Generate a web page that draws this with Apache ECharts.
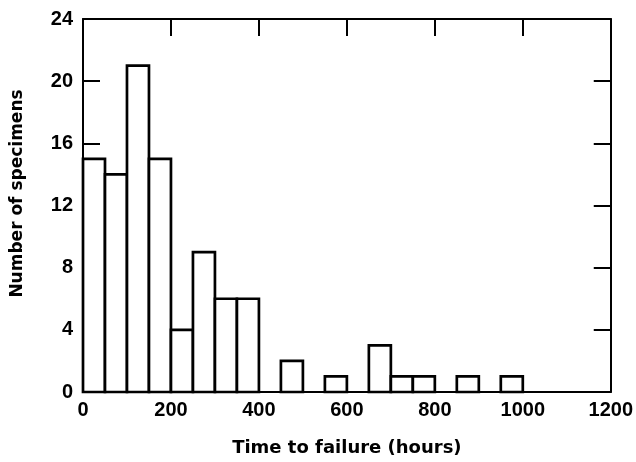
<!DOCTYPE html>
<html>
<head>
<meta charset="utf-8">
<script src="https://cdn.jsdelivr.net/npm/echarts@6/dist/echarts.min.js"></script>
<style>
  html, body { margin:0; padding:0; background:#fff; }
  #chart { width:636px; height:462px; }
</style>
</head>
<body>
<div id="chart"></div>
<script>
// ===== Data (bins of 50 hours)
const binStarts = [0,50,100,150,200,250,300,350,400,450,500,550,600,650,700,750,800,850,900,950];
const counts    = [15,14,21,15,4,9,6,6,0,2,0,1,0,3,1,1,0,1,0,1];
const BIN = 50;
const xTicks = [0,200,400,600,800,1000,1200];
const yTicks = [0,4,8,12,16,20,24];

const FONT = '"DejaVu Sans", Arial, sans-serif';
const NUMFONT = '"Liberation Sans", Arial, sans-serif';
const chart = echarts.init(document.getElementById('chart'));

const data = binStarts.map((s,i)=>[s, counts[i]]);

function renderBar(params, api){
  const x0 = api.value(0), cnt = api.value(1);
  if (!cnt) return null;
  const p0 = api.coord([x0, 0]), p1 = api.coord([x0 + BIN, cnt]);
  return {
    type:'rect',
    shape:{ x:p0[0], y:p1[1], width:p1[0]-p0[0], height:p0[1]-p1[1] },
    style:{ fill:'#fff', stroke:'#000', lineWidth:2.7 }
  };
}

const lbl = { color:'#000', fontFamily:NUMFONT, fontWeight:'bold', fontSize:20 };
const titleStyle = { color:'#000', fontFamily:FONT, fontWeight:'bold', fontSize:18 };
const line = { show:true, onZero:false, lineStyle:{ color:'#000', width:2 } };
const tickIn = { show:true, inside:true, length:17, lineStyle:{ color:'#000', width:2 } };

chart.setOption({
  animation:false,
  backgroundColor:'#fff',
  grid:{ left:83, top:19, right:24, bottom:69 },
  xAxis:[{
    type:'value', min:0, max:1200, interval:200, position:'bottom',
    name:'Time to failure (hours)', nameLocation:'middle', nameGap:47,
    nameTextStyle:titleStyle,
    axisLine:line,
    axisTick:{ show:false },
    axisLabel:{ ...lbl, margin:8, formatter:v=>xTicks.includes(v)?String(v):'' },
    splitLine:{ show:false }
  },{
    type:'value', min:0, max:1200, interval:200, position:'top',
    axisLine:line, axisTick:tickIn,
    axisLabel:{ show:false }, splitLine:{ show:false }
  }],
  yAxis:[{
    type:'value', min:0, max:24, interval:4, position:'left',
    name:'Number of specimens', nameLocation:'middle', nameGap:57,
    nameTextStyle:{ ...titleStyle, fontSize:17, padding:[0,0,0,24] },
    axisLine:line, axisTick:tickIn,
    axisLabel:{ ...lbl, margin:10, formatter:v=>yTicks.includes(v)?String(v):'' },
    splitLine:{ show:false }
  },{
    type:'value', min:0, max:24, interval:4, position:'right',
    axisLine:line, axisTick:tickIn,
    axisLabel:{ show:false }, splitLine:{ show:false }
  }],
  series:[{
    type:'custom', renderItem:renderBar, xAxisIndex:0, yAxisIndex:0,
    encode:{ x:0, y:1 }, data:data, z:1
  }]
});
</script>
</body>
</html>
